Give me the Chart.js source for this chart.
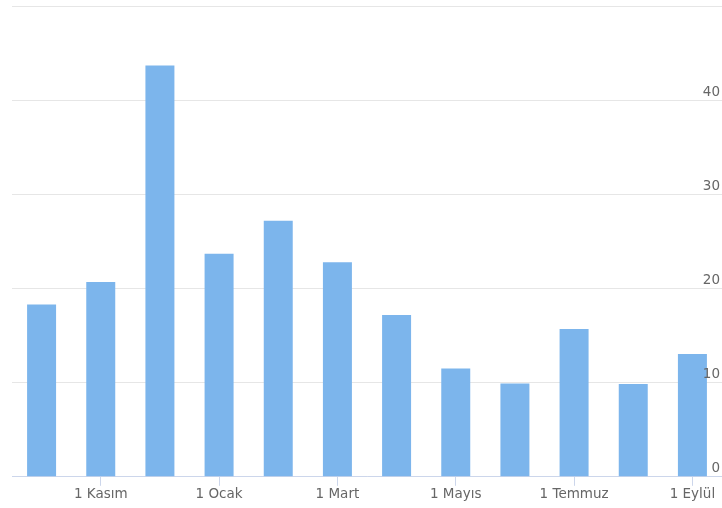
<!DOCTYPE html>
<html>
<head>
<meta charset="utf-8">
<script src="https://cdn.jsdelivr.net/npm/chart.js@4/dist/chart.umd.min.js"></script>
<style>
  html, body { margin: 0; padding: 0; background: #fff; }
  #wrap { width: 722px; height: 508px; position: relative; }
</style>
</head>
<body>
<div id="wrap"><canvas id="c"></canvas></div>
<script>
// Monthly counts, October through September
const months = ['1 Ekim', '1 Kasım', '1 Aralık', '1 Ocak', '1 Şubat', '1 Mart',
                '1 Nisan', '1 Mayıs', '1 Haziran', '1 Temmuz', '1 Ağustos', '1 Eylül'];
const counts = [18.3, 20.7, 43.7, 23.7, 27.2, 22.8, 17.2, 11.5, 9.9, 15.7, 9.85, 13.05];
const yTicks = [0, 10, 20, 30, 40, 50];

const labelFont = { family: 'DejaVu Sans', size: 13.5 };
const labelColor = '#666666';

new Chart(document.getElementById('c'), {
  type: 'bar',
  data: {
    labels: months,
    datasets: [{
      data: counts,
      backgroundColor: '#7cb5ec',
      borderWidth: 0,
      categoryPercentage: 1,
      barPercentage: 0.49
    }]
  },
  options: {
    responsive: true,
    maintainAspectRatio: false,
    animation: false,
    layout: { padding: { left: 12, right: 0, top: -5, bottom: 4 } },
    plugins: { legend: { display: false }, tooltip: { enabled: false } },
    scales: {
      x: {
        offset: true,
        grid: {
          offset: false,
          drawOnChartArea: false,
          drawTicks: true,
          tickLength: 9,
          tickColor: (ctx) => (ctx.index % 2 === 1 ? '#ccd6eb' : 'rgba(0,0,0,0)')
        },
        border: { display: true, color: '#ccd6eb', width: 1 },
        ticks: {
          autoSkip: false,
          maxRotation: 0,
          padding: 1,
          color: labelColor,
          font: labelFont,
          callback: function (value, index) {
            return index % 2 === 1 ? this.getLabelForValue(value) : '';
          }
        }
      },
      y: {
        position: 'right',
        min: 0,
        max: 50,
        afterBuildTicks: (scale) => { scale.ticks = yTicks.map(v => ({ value: v })); },
        afterFit: (scale) => { scale.width = 0; },
        grid: { color: '#e6e6e6', drawTicks: false, tickLength: 0, z: -1 },
        border: { display: false },
        ticks: {
          z: 1,
          mirror: true,
          padding: -2,
          labelOffset: -8,
          color: labelColor,
          font: labelFont,
          callback: (v) => (v === 50 ? '' : v)
        }
      }
    }
  }
});
</script>
</body>
</html>
